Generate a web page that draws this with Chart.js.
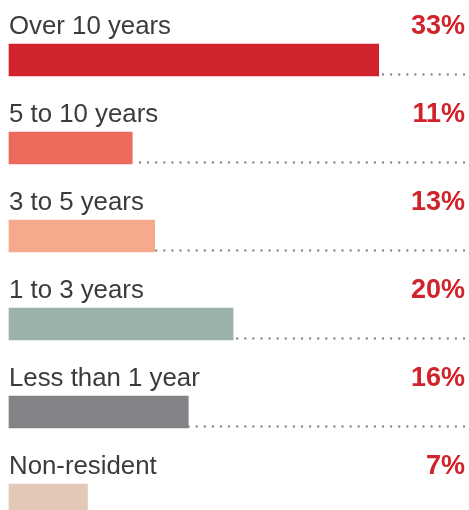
<html>
<head>
  <title>Length of residence</title>
  <script src="https://cdn.jsdelivr.net/npm/chart.js@4.4.1/dist/chart.umd.min.js"></script>
  <style>
    body { margin: 0; background: #fff; }
  </style>
</head>
<body>
<canvas id="chartCanvas" width="469" height="510"></canvas>
<script>
  // residence groups, share in percent, bar colours
  const categories = ['Over 10 years', '5 to 10 years', '3 to 5 years', '1 to 3 years', 'Less than 1 year', 'Non-resident'];
  const shares = [33, 11, 13, 20, 16, 7];
  const barColors = ['#d0232b', '#ec6a5c', '#f5aa8e', '#9bb2aa', '#828386', '#e2c8b7'];

  // labels above each bar, value on the right, dotted leader to the edge
  const rowText = {
    id: 'rowText',
    beforeDatasetsDraw(chart) {
      const ctx = chart.ctx;
      const right = chart.chartArea.right;
      const meta = chart.getDatasetMeta(0);
      ctx.save();
      ctx.strokeStyle = '#8a8a8a';
      ctx.lineWidth = 2.4;
      ctx.lineCap = 'round';
      ctx.setLineDash([0, 8.1]);
      meta.data.forEach(bar => {
        const y = bar.y + bar.height / 2 - 1.5;
        ctx.beginPath();
        ctx.moveTo(right - 1, y);
        ctx.lineTo(bar.x, y);
        ctx.stroke();
      });
      ctx.restore();
    },
    afterDatasetsDraw(chart) {
      const ctx = chart.ctx;
      const left = chart.chartArea.left;
      const right = chart.chartArea.right;
      const meta = chart.getDatasetMeta(0);
      ctx.save();
      ctx.textBaseline = 'alphabetic';
      meta.data.forEach((bar, i) => {
        const base = bar.y - bar.height / 2 - 10;
        ctx.font = '25.8px "Liberation Sans", Arial, sans-serif';
        ctx.fillStyle = '#3b3b3b';
        ctx.textAlign = 'left';
        ctx.fillText(categories[i], left, base);
        ctx.font = 'bold 27px "Liberation Sans", Arial, sans-serif';
        ctx.fillStyle = '#d0232b';
        ctx.textAlign = 'right';
        ctx.fillText(shares[i] + '%', right, base);
      });
      ctx.restore();
    }
  };

  new Chart(document.getElementById('chartCanvas'), {
    type: 'bar',
    data: {
      labels: categories,
      datasets: [{
        data: shares,
        backgroundColor: barColors,
        barThickness: 32,
        borderWidth: 0,
        clip: false
      }]
    },
    options: {
      indexAxis: 'y',
      responsive: false,
      animation: false,
      layout: { padding: { top: 60, bottom: 10, left: 9, right: 4 } },
      plugins: { legend: { display: false }, tooltip: { enabled: false } },
      scales: {
        x: { display: false, min: 0, max: 40.7 },
        y: { display: false, offset: false }
      }
    },
    plugins: [rowText]
  });
</script>
</body>
</html>
